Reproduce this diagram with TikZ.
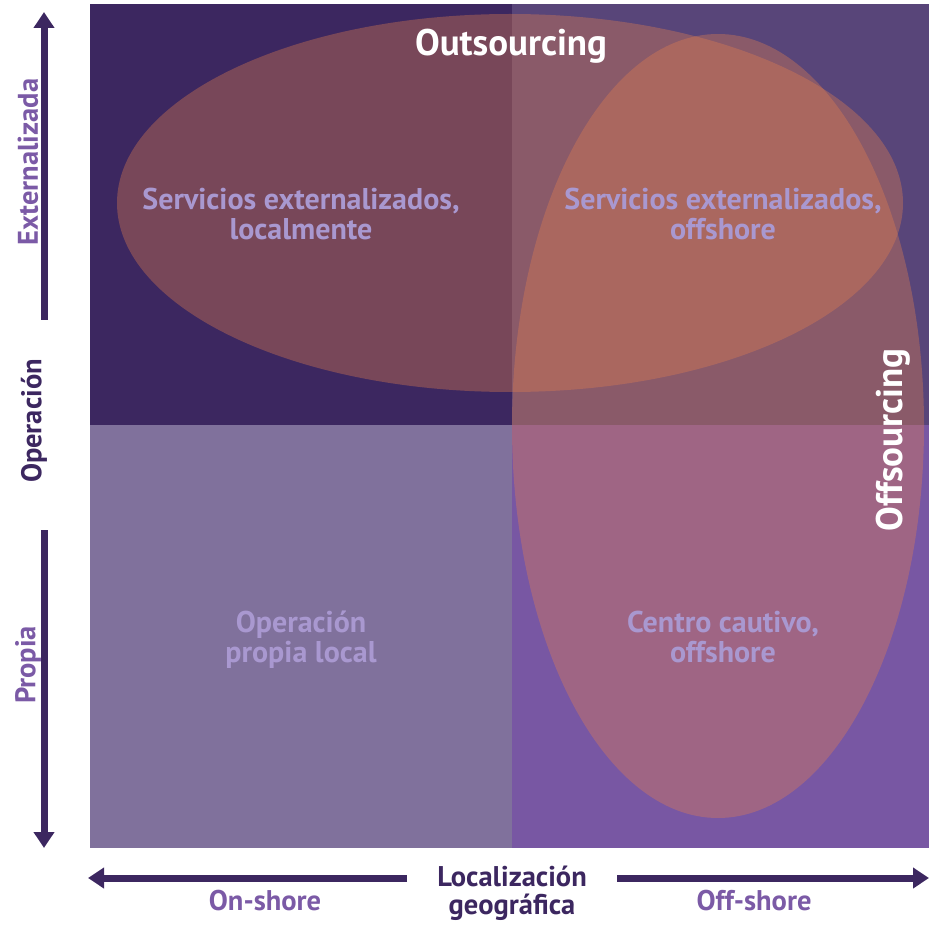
\documentclass[tikz,border=0pt]{standalone}
\usepackage{fontspec}
\setmainfont{PT Sans}
\usetikzlibrary{arrows.meta}
\definecolor{qTL}{HTML}{3C2760}
\definecolor{qTR}{HTML}{584579}
\definecolor{qBL}{HTML}{80719C}
\definecolor{qBR}{HTML}{7857A3}
\definecolor{blob}{RGB}{229,128,79}
\definecolor{lav}{HTML}{A998D0}
\definecolor{axmid}{HTML}{7B5AA6}
\definecolor{axdark}{HTML}{3C2760}
\tikzset{
  quadlabel/.style={font=\bfseries\fontsize{30}{30}\selectfont, text=lav, align=center, inner sep=0pt},
  biglabel/.style={font=\bfseries\fontsize{37}{40}\selectfont, text=white, inner sep=0pt},
  axlabel/.style={font=\bfseries\fontsize{28.5}{28}\selectfont, text=axmid, inner sep=0pt},
  axtitle/.style={font=\bfseries\fontsize{28.5}{28}\selectfont, text=axdark, align=center, inner sep=0pt},
  axarrow/.style={draw=axdark, line width=7pt, -{Triangle[length=16pt,width=20pt]}},
  blobfill/.style={fill=blob, fill opacity=0.36, draw=none}
}
\begin{document}
\begin{tikzpicture}[x=1pt,y=-1pt]
\useasboundingbox (0,0) rectangle (929,925);
% quadrants
\fill[qTL] (90,4) rectangle (512,425);
\fill[qTR] (512,4) rectangle (929,425);
\fill[qBL] (90,425) rectangle (512,848);
\fill[qBR] (512,425) rectangle (929,848);
% ellipses
\fill[blobfill] (510,203) ellipse [x radius=393, y radius=189];
\fill[blobfill] (718,426) ellipse [x radius=206, y radius=392];
% quadrant labels
\node[quadlabel] (tl) at (301,214) {Servicios externalizados,\\localmente};
\node[quadlabel] (tr) at (723,214) {Servicios externalizados,\\offshore};
\node[quadlabel] (bl) at (301,640) {Operación\\propia local};
\node[quadlabel] (br) at (723,637) {Centro cautivo,\\offshore};
\node[biglabel] (out) at (511,46) {Outsourcing};
\node[biglabel, rotate=90] (off) at (893,440) {Offsourcing};
% vertical axis
\coordinate (vtopS) at (44,320);
\coordinate (vtopE) at (44,12);
\coordinate (vbotS) at (44,530);
\coordinate (vbotE) at (44,848);
\draw[axarrow] (vtopS) -- (vtopE);
\draw[axarrow] (vbotS) -- (vbotE);
\node[axlabel, rotate=90] (ext) at (28,162) {Externalizada};
\node[axtitle, rotate=90] (oper) at (34,421) {Operación};
\node[axlabel, rotate=90] (prop) at (28,665) {Propia};
% horizontal axis
\coordinate (hlS) at (407,878);
\coordinate (hlE) at (88,878);
\coordinate (hrS) at (617,878);
\coordinate (hrE) at (929,878);
\draw[axarrow] (hlS) -- (hlE);
\draw[axarrow] (hrS) -- (hrE);
\node[axtitle] (loc) at (512,893) {Localización\\geográfica};
\node[axlabel] (on) at (265,901) {On-shore};
\node[axlabel] (offs) at (754,901) {Off-shore};
\end{tikzpicture}
\end{document}
